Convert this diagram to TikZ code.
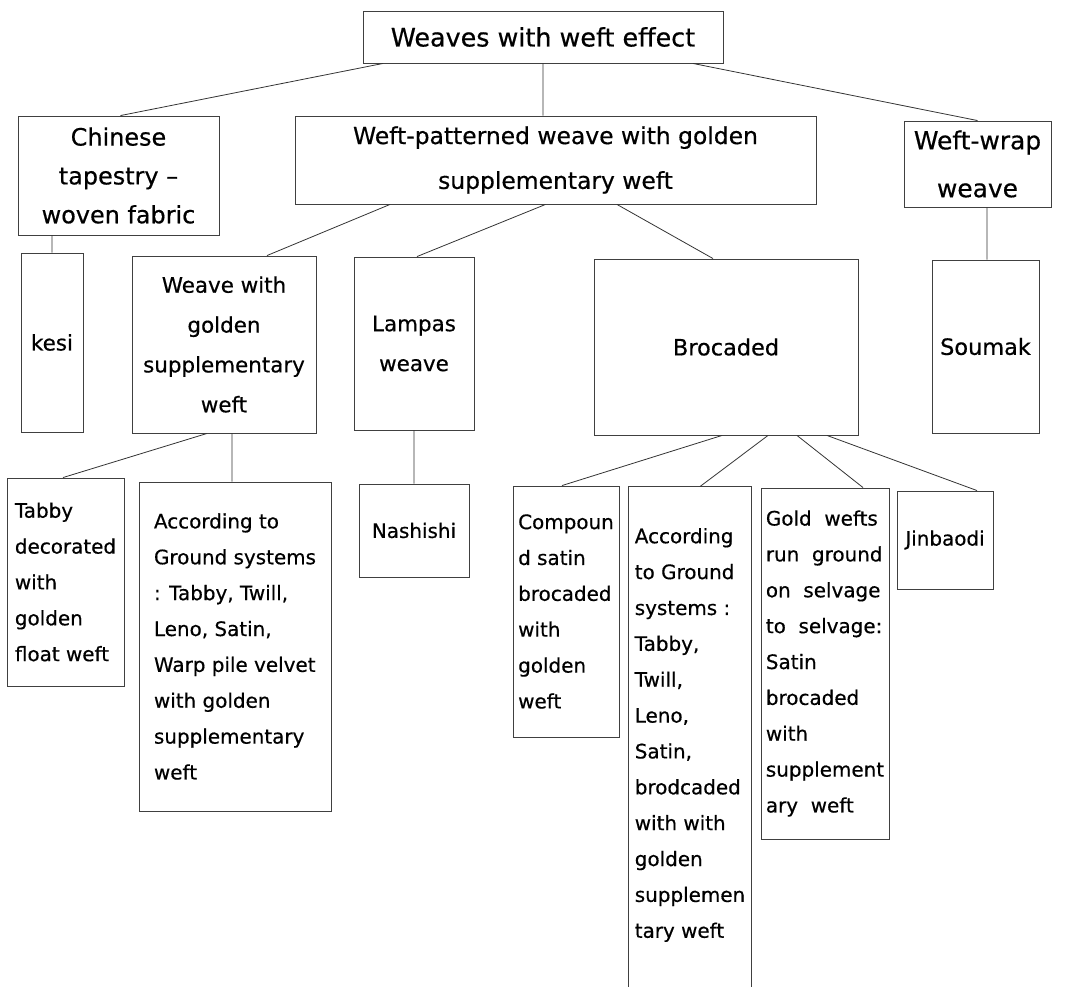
\documentclass[tikz,border=0pt]{standalone}
\usepackage{fontspec}
\setmainfont{DejaVu Sans}[FakeBold=0.5]

\begin{document}
\begin{tikzpicture}[x = 1bp, y = -1bp,
    box/.style = {draw = black!75, line width = 0.9bp, inner sep = 0pt},
    topfont/.style = {font = \fontsize{24}{39}\selectfont, align = center},
    midfont/.style = {font = \fontsize{21.5}{40}\selectfont, align = center},
    lowfont/.style = {font = \fontsize{20}{36}\selectfont, align = left},
    link/.style = {draw = black!80, line width = 0.8bp}]
    \useasboundingbox (0,0) rectangle (1068,987);
    \clip (0,0) rectangle (1068,987);
    % first two rows
    \node[box, font = \fontsize{25.5}{30}\selectfont, minimum width = 360bp, minimum height = 52bp] (root) at (543,37) {Weaves with weft effect};
    \node[box, topfont, minimum width = 201bp, minimum height = 119bp] (chin) at (118.5,175.5) {Chinese\\tapestry –\\woven fabric};
    \node[box, topfont, font = \fontsize{23.5}{45}\selectfont, minimum width = 521bp, minimum height = 88bp] (wpw) at (555.5,160) {Weft-patterned weave with golden\\supplementary weft};
    \node[box, topfont, font = \fontsize{25}{48}\selectfont, minimum width = 147bp, minimum height = 86bp] (wrap) at (977.5,164) {Weft-wrap\\weave};
    \node[box, midfont, minimum width = 62bp, minimum height = 179bp] (kesi) at (52,342.5) {kesi};
    \node[box, midfont, minimum width = 184bp, minimum height = 177bp] (wgs) at (224,344.5) {Weave with\\golden\\supplementary\\weft};
    \node[box, midfont, minimum width = 120bp, minimum height = 173bp] (lamp) at (414,343.5) {Lampas\\weave};
    \node[box, midfont, font = \fontsize{22.5}{40}\selectfont, minimum width = 264bp, minimum height = 176bp] (broc) at (726,347) {Brocaded};
    \node[box, midfont, font = \fontsize{22.5}{40}\selectfont, minimum width = 107bp, minimum height = 173bp] (soum) at (985.5,346.5) {Soumak};
    % bottom row
    \node[box, lowfont, minimum width = 117bp, minimum height = 208bp] (tabby) at (65.5,582) {Tabby\\decorated\\with\\golden\\float weft};
    \node[box, lowfont, minimum width = 192bp, minimum height = 329bp] (acc1) at (235,646.5) {According to\\Ground systems\\: Tabby, Twill,\\Leno, Satin,\\Warp pile velvet\\with golden\\supplementary\\weft};
    \node[box, lowfont, minimum width = 110bp, minimum height = 93bp] (nash) at (414,530.5) {Nashishi};
    \node[box, lowfont, minimum width = 106bp, minimum height = 251bp] (comp) at (566,611.5) {Compoun\\d satin\\brocaded\\with\\golden\\weft};
    \node[box, lowfont, draw = none, minimum width = 122bp, minimum height = 496bp] (acc2) at (690,735) {According\\to Ground\\systems :\\Tabby,\\Twill,\\Leno,\\Satin,\\brodcaded\\with with\\golden\\supplemen\\tary weft};
    \node[box, lowfont, minimum width = 128bp, minimum height = 351bp] (gold) at (825,663.5) {Gold~ wefts\\run~ ground\\on~ selvage\\to~ selvage:\\Satin\\brocaded\\with\\supplement\\ary~ weft};
    \node[box, lowfont, minimum width = 96bp, minimum height = 98bp] (jinb) at (945,540) {Jinbaodi};
    % open box running off the page
    \draw[box] (acc2.south west) ++(0,20) -- (acc2.north west) -- (acc2.north east) -- ++(0,520);
    % connectors
    \draw[link]
    ([xshift = -160bp]root.south) -- ([xshift = 2bp]chin.north)
    (root.south) -- ([xshift = -12.5bp]wpw.north)
    ([xshift = 150bp]root.south) -- (wrap.north)
    (chin.south -| kesi.north) -- (kesi.north)
    ([xshift = -165.5bp]wpw.south) -- ([xshift = 43bp]wgs.north)
    ([xshift = -10bp]wpw.south) -- ([xshift = 3bp]lamp.north)
    ([xshift = 61.5bp]wpw.south) -- ([xshift = -13bp]broc.north)
    ([xshift = 9.5bp]wrap.south) -- ([xshift = 1.5bp]soum.north)
    ([xshift = -17bp]wgs.south) -- ([xshift = -2.5bp]tabby.north)
    ([xshift = 8bp]wgs.south) -- ([xshift = -3bp]acc1.north)
    (lamp.south) -- (nash.north)
    ([xshift = -4bp]broc.south) -- ([xshift = -4bp]comp.north)
    ([xshift = 42bp]broc.south) -- ([xshift = 10bp]acc2.north)
    ([xshift = 71bp]broc.south) -- ([xshift = 38bp]gold.north)
    ([xshift = 101bp]broc.south) -- ([xshift = 32bp]jinb.north);
\end{tikzpicture}
\end{document}
